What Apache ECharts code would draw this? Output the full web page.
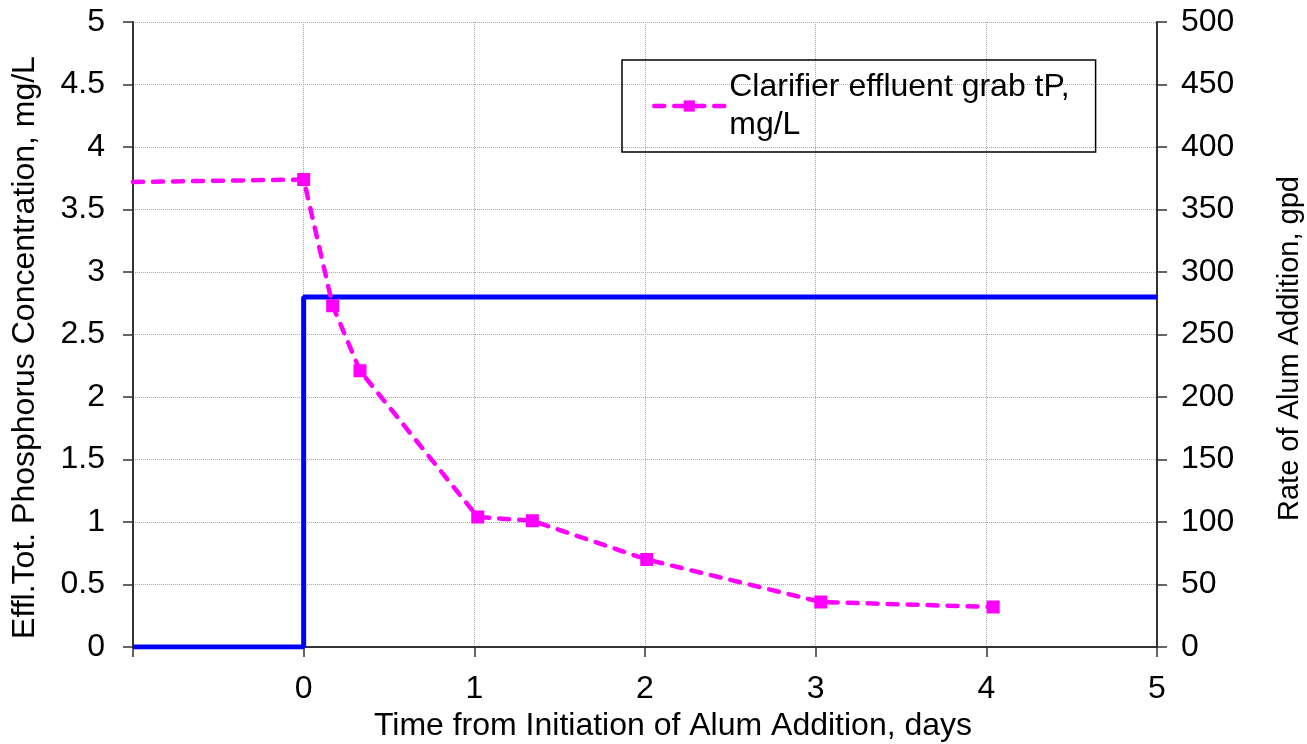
<!DOCTYPE html>
<html>
<head>
<meta charset="utf-8">
<script src="https://cdn.jsdelivr.net/npm/echarts@6/dist/echarts.min.js"></script>
<style>
  html, body { margin: 0; padding: 0; background: #fff; }
  #main { width: 1307px; height: 744px; }
</style>
</head>
<body>
<div id="main"></div>
<script>
// effluent tP grab samples (days, mg/L) - first point is the baseline carried back to the axis edge
var tpDays = [-1, 0, 0.17, 0.33, 1.02, 1.34, 2.01, 3.03, 4.04];
var tpConc = [3.72, 3.74, 2.73, 2.21, 1.04, 1.01, 0.70, 0.36, 0.32];
// alum dose rate, gpd
var alumDays = [-1, 0, 0, 5];
var alumRate = [0, 0, 280, 280];

var font = 'Liberation Sans, Arial, sans-serif';

var tpData = [];
for (var i = 0; i < tpDays.length; i++) {
  // no marker on the baseline start point
  if (tpDays[i] < 0) tpData.push({ value: [tpDays[i], tpConc[i]], symbol: 'none' });
  else tpData.push([tpDays[i], tpConc[i]]);
}
var alumData = alumDays.map(function (d, i) { return [d, alumRate[i]]; });

var chart = echarts.init(document.getElementById('main'));

var option = {
  animation: false,
  backgroundColor: '#ffffff',
  textStyle: { fontFamily: font },
  grid: { left: 133, right: 150, top: 22, bottom: 97, outerBoundsMode: 'none', containLabel: false },
  legend: {
    left: 622,
    top: 60,
    orient: 'vertical',
    data: ['Clarifier effluent grab tP,\nmg/L'],
    borderColor: '#000',
    borderWidth: 1.5,
    borderRadius: 0,
    padding: [8, 26, 8, 30],
    itemWidth: 70,
    itemHeight: 14,
    lineStyle: { width: 4.5, type: [10, 10], cap: 'round' },
    textStyle: { fontSize: 32, color: '#000', lineHeight: 38, fontFamily: font }
  },
  xAxis: {
    type: 'value',
    min: -1,
    max: 5,
    interval: 1,
    name: 'Time from Initiation of Alum Addition, days',
    nameLocation: 'middle',
    nameGap: 62,
    nameTextStyle: { fontSize: 32, color: '#000', padding: [0, 0, 0, 56] },
    axisLine: { onZero: false, lineStyle: { color: '#333', width: 2 } },
    axisTick: { length: 10, lineStyle: { color: '#333', width: 1.5 } },
    axisLabel: {
      fontSize: 32, color: '#000', margin: 26,
      formatter: function (v) { return v < 0 ? '' : String(v); }
    },
    splitLine: { show: true, lineStyle: { color: '#aaa', type: 'dotted', width: 1 } }
  },
  yAxis: [{
    type: 'value',
    min: 0,
    max: 5,
    interval: 0.5,
    name: 'Effl.Tot. Phosphorus Concentration, mg/L',
    nameLocation: 'middle',
    nameGap: 92,
    nameTextStyle: { fontSize: 32, color: '#000', padding: [0, 26, 0, 0] },
    axisLine: { show: true, onZero: false, lineStyle: { color: '#333', width: 2 } },
    axisTick: { show: true, length: 10, lineStyle: { color: '#333', width: 1.5 } },
    axisLabel: { fontSize: 32, color: '#000', margin: 28 },
    splitLine: { show: true, lineStyle: { color: '#aaa', type: 'dotted', width: 1 } }
  }, {
    type: 'value',
    min: 0,
    max: 500,
    interval: 50,
    position: 'right',
    name: 'Rate of Alum Addition, gpd',
    nameLocation: 'middle',
    nameGap: 118,
    nameTextStyle: { fontSize: 29, color: '#000', padding: [0, 28, 0, 0] },
    axisLine: { show: true, onZero: false, lineStyle: { color: '#333', width: 2 } },
    axisTick: { show: true, length: 10, lineStyle: { color: '#333', width: 1.5 } },
    axisLabel: { fontSize: 32, color: '#000', margin: 24 },
    splitLine: { show: false }
  }],
  series: [{
    name: 'Clarifier effluent grab tP,\nmg/L',
    type: 'line',
    yAxisIndex: 0,
    data: tpData,
    symbol: 'rect',
    symbolSize: 13,
    color: '#ff00ff',
    lineStyle: { color: '#ff00ff', width: 4.5, type: [10, 10], cap: 'round' },
    itemStyle: { color: '#ff00ff' },
    z: 3
  }, {
    name: 'Alum',
    type: 'line',
    yAxisIndex: 1,
    data: alumData,
    symbol: 'none',
    color: '#0000ff',
    lineStyle: { color: '#0000ff', width: 5 },
    z: 2
  }]
};

chart.setOption(option);
</script>
</body>
</html>
